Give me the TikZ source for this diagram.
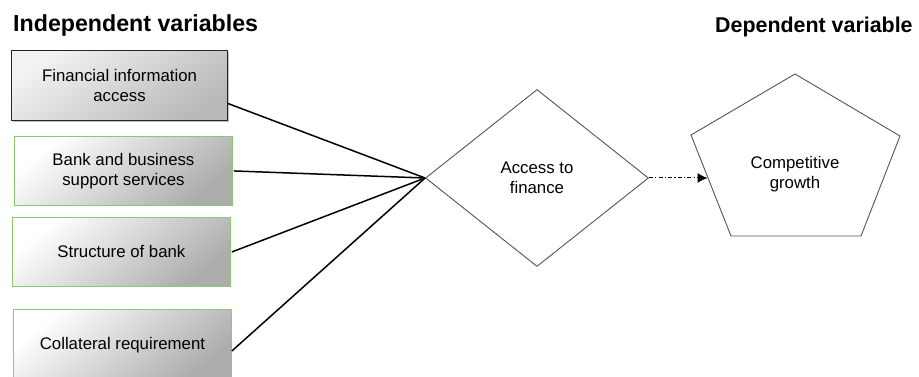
\documentclass[tikz,border=0pt]{standalone}
\usepackage{fontspec}
\setmainfont{Liberation Sans}
\usetikzlibrary{shapes.geometric,arrows.meta,calc,shadows}
\definecolor{boxgreen}{HTML}{8CC870}
\definecolor{edgegray}{HTML}{555555}
\begin{document}
\begin{tikzpicture}[x=1pt,y=-1pt,
  title/.style={font=\bfseries, anchor=base west, inner sep=0},
  varbox/.style={draw=boxgreen, line width=0.9pt, anchor=north west, minimum width=218pt, minimum height=69pt,
    align=center, font=\fontsize{16.8}{20}\selectfont, inner sep=0,
    shading=axis, top color=white, middle color=white, bottom color=gray!65, shading angle=40},
  graybox/.style={draw=black!85, line width=1.1pt, anchor=north west, minimum width=216pt, minimum height=70pt,
    align=center, font=\fontsize{16.8}{20}\selectfont, inner sep=0,
    shading=axis, top color=gray!10, bottom color=gray!55, shading angle=35,
    drop shadow={shadow xshift=1.5pt, shadow yshift=-1.5pt, opacity=0.5}},
  link/.style={draw=black, line width=1.5pt},
  shapeedge/.style={draw=edgegray, line width=0.9pt}
]
\clip (0,0) rectangle (919,377);
\fill[white] (0,0) rectangle (919,377);

\node[title, font=\fontsize{23.2}{26}\selectfont\bfseries] (ti) at (13,32) {Independent variables};
\node[title, font=\fontsize{21.4}{26}\selectfont\bfseries] (td) at (715,33) {Dependent variable};

\node[graybox] (b1) at (11,50) {Financial information\\access};
\node[varbox] (b2) at (14,136) {Bank and business\\support services};
\node[varbox] (b3) at (12,217) {Structure of bank};
\node[varbox, minimum height=71pt] (b4) at (13,309) {Collateral requirement};

\node[diamond, shapeedge, minimum width=223pt, minimum height=177pt, inner sep=0,
      align=center, font=\fontsize{16.8}{20}\selectfont] (af) at (537,178) {Access to\\finance};

\draw[shapeedge, line join=miter] (795,74) -- (900,136) -- (861,236) -- (731,236) -- (691,135) -- cycle;
\node[align=center, font=\fontsize{16.8}{20}\selectfont, inner sep=0] (cg) at (795,174) {Competitive\\growth};
\coordinate (cgl) at (707.5,178);

\draw[link] ($(b1.east)+(0,18)$) -- (af.west);
\draw[link] ($(b2.east)+(1,0)$) -- (af.west);
\draw[link] ($(b3.east)+(1,0)$) -- (af.west);
\draw[link] ($(b4.east)+(0,6)$) -- (af.west);

\draw[line width=1pt, dash pattern=on 4pt off 2.2pt on 1.2pt off 2.2pt, -{Latex[length=10pt,width=10pt]}] (af.east) -- (cgl);
\end{tikzpicture}
\end{document}
